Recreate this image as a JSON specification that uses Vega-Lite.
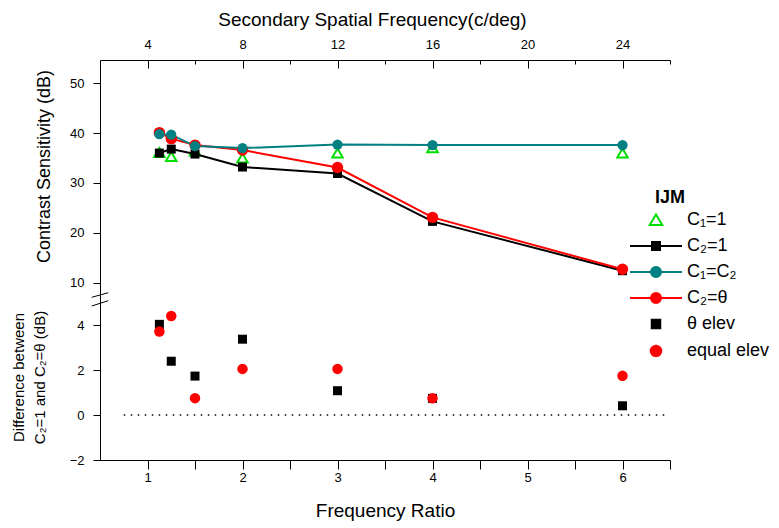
{
  "$schema": "https://vega.github.io/schema/vega-lite/v6.json",
  "width": 570,
  "height": 400,
  "autosize": {"type": "none"},
  "padding": {"left": 100, "top": 60, "right": 109, "bottom": 68},
  "background": "white",
  "config": {
    "view": {"stroke": null},
    "font": "Liberation Sans",
    "axis": {
      "grid": false,
      "domain": true,
      "ticks": true,
      "domainColor": "black",
      "domainWidth": 1,
      "domainOpacity": 1,
      "tickColor": "black",
      "tickWidth": 1,
      "tickOpacity": 1,
      "labelColor": "black",
      "titleColor": "black",
      "labelFontSize": 13,
      "titleFontWeight": "normal",
      "labelOverlap": false,
      "labelFlush": false
    },
    "legend": {
      "titleFontSize": 18,
      "titleFontWeight": "bold",
      "titleColor": "black",
      "labelFontSize": 18,
      "labelColor": "black",
      "symbolSize": 100,
      "symbolStrokeWidth": 2,
      "symbolOpacity": 1,
      "labelOffset": 22,
      "rowPadding": 8,
      "titlePadding": 4
    }
  },
  "datasets": {
    "cs": [
      {"ratio": 1.125, "series": "C₁=1", "cs": 36.1},
      {"ratio": 1.25, "series": "C₁=1", "cs": 35.3},
      {"ratio": 1.5, "series": "C₁=1", "cs": 36.4},
      {"ratio": 2, "series": "C₁=1", "cs": 35.0},
      {"ratio": 3, "series": "C₁=1", "cs": 36.0},
      {"ratio": 4, "series": "C₁=1", "cs": 37.1},
      {"ratio": 6, "series": "C₁=1", "cs": 36.0},
      {"ratio": 1.125, "series": "C₂=1", "cs": 36.0},
      {"ratio": 1.25, "series": "C₂=1", "cs": 36.8},
      {"ratio": 1.5, "series": "C₂=1", "cs": 35.8},
      {"ratio": 2, "series": "C₂=1", "cs": 33.2},
      {"ratio": 3, "series": "C₂=1", "cs": 31.9},
      {"ratio": 4, "series": "C₂=1", "cs": 22.3},
      {"ratio": 6, "series": "C₂=1", "cs": 12.4},
      {"ratio": 1.125, "series": "C₁=C₂", "cs": 39.8},
      {"ratio": 1.25, "series": "C₁=C₂", "cs": 39.7},
      {"ratio": 1.5, "series": "C₁=C₂", "cs": 37.4},
      {"ratio": 2, "series": "C₁=C₂", "cs": 37.0},
      {"ratio": 3, "series": "C₁=C₂", "cs": 37.7},
      {"ratio": 4, "series": "C₁=C₂", "cs": 37.6},
      {"ratio": 6, "series": "C₁=C₂", "cs": 37.6},
      {"ratio": 1.125, "series": "C₂=θ", "cs": 40.1},
      {"ratio": 1.25, "series": "C₂=θ", "cs": 38.9},
      {"ratio": 1.5, "series": "C₂=θ", "cs": 37.6},
      {"ratio": 2, "series": "C₂=θ", "cs": 36.6},
      {"ratio": 3, "series": "C₂=θ", "cs": 33.1},
      {"ratio": 4, "series": "C₂=θ", "cs": 23.1},
      {"ratio": 6, "series": "C₂=θ", "cs": 12.7}
    ],
    "diff": [
      {"ratio": 1.125, "measure": "θ elev", "diff": 4.03},
      {"ratio": 1.25, "measure": "θ elev", "diff": 2.39},
      {"ratio": 1.5, "measure": "θ elev", "diff": 1.73},
      {"ratio": 2, "measure": "θ elev", "diff": 3.37},
      {"ratio": 3, "measure": "θ elev", "diff": 1.08},
      {"ratio": 4, "measure": "θ elev", "diff": 0.74},
      {"ratio": 6, "measure": "θ elev", "diff": 0.41},
      {"ratio": 1.125, "measure": "equal elev", "diff": 3.71},
      {"ratio": 1.25, "measure": "equal elev", "diff": 4.4},
      {"ratio": 1.5, "measure": "equal elev", "diff": 0.75},
      {"ratio": 2, "measure": "equal elev", "diff": 2.05},
      {"ratio": 3, "measure": "equal elev", "diff": 2.05},
      {"ratio": 4, "measure": "equal elev", "diff": 0.74},
      {"ratio": 6, "measure": "equal elev", "diff": 1.74}
    ],
    "entries": [
      {"series": "C₁=1"},
      {"series": "C₂=1"},
      {"series": "C₁=C₂"},
      {"series": "C₂=θ"},
      {"series": "θ elev"},
      {"series": "equal elev"}
    ]
  },
  "layer": [
    {
      "layer": [
        {
          "layer": [
            {
              "data": {"name": "cs"},
              "transform": [{"filter": "datum.series == 'C₁=1'"}],
              "mark": {"type": "point", "shape": "triangle-up", "filled": false, "color": "#00dd00", "strokeWidth": 2, "size": 110, "opacity": 1},
              "encoding": {
                "x": {
                  "field": "ratio", "type": "quantitative",
                  "scale": {"domain": [0.5, 6.5], "nice": false, "zero": false},
                  "axis": {
                    "orient": "top",
                    "values": [1, 2, 3, 4, 5, 6],
                    "labelExpr": "format(datum.value * 4, 'd')",
                    "domain": true,
                    "ticks": true,
                    "tickSize": -8,
                    "labelPadding": 17,
                    "title": "Secondary Spatial Frequency(c/deg)",
                    "titleFontSize": 19,
                    "titleX": 272,
                    "titlePadding": 9
                  }
                },
                "y": {
                  "field": "cs", "type": "quantitative",
                  "scale": {"domain": [-25.57, 54.67], "nice": false, "zero": false},
                  "axis": {
                    "orient": "left",
                    "values": [10, 20, 30, 40, 50],
                    "tickSize": 7,
                    "labelPadding": 9,
                    "title": "Contrast Sensitivity (dB)",
                    "titleFontSize": 18,
                    "titleY": 106,
                    "titlePadding": 16
                  }
                }
              }
            },
            {
              "data": {"name": "cs"},
              "transform": [{"filter": "datum.series == 'C₂=1'"}],
              "mark": {"type": "line", "color": "black", "strokeWidth": 2},
              "encoding": {"x": {"field": "ratio", "type": "quantitative"}, "y": {"field": "cs", "type": "quantitative"}}
            },
            {
              "data": {"name": "cs"},
              "transform": [{"filter": "datum.series == 'C₂=θ'"}],
              "mark": {"type": "line", "color": "#ff0000", "strokeWidth": 2},
              "encoding": {"x": {"field": "ratio", "type": "quantitative"}, "y": {"field": "cs", "type": "quantitative"}}
            },
            {
              "data": {"name": "cs"},
              "transform": [{"filter": "datum.series == 'C₁=C₂'"}],
              "mark": {"type": "line", "color": "#008080", "strokeWidth": 2},
              "encoding": {"x": {"field": "ratio", "type": "quantitative"}, "y": {"field": "cs", "type": "quantitative"}}
            },
            {
              "data": {"name": "cs"},
              "transform": [{"filter": "datum.series == 'C₂=1'"}],
              "mark": {"type": "square", "color": "black", "size": 81, "opacity": 1},
              "encoding": {"x": {"field": "ratio", "type": "quantitative"}, "y": {"field": "cs", "type": "quantitative"}}
            },
            {
              "data": {"name": "cs"},
              "transform": [{"filter": "datum.series == 'C₂=θ'"}],
              "mark": {"type": "circle", "color": "#ff0000", "size": 130, "opacity": 1},
              "encoding": {"x": {"field": "ratio", "type": "quantitative"}, "y": {"field": "cs", "type": "quantitative"}}
            },
            {
              "data": {"name": "cs"},
              "transform": [{"filter": "datum.series == 'C₁=C₂'"}],
              "mark": {"type": "circle", "color": "#008080", "size": 105, "opacity": 1},
              "encoding": {"x": {"field": "ratio", "type": "quantitative"}, "y": {"field": "cs", "type": "quantitative"}}
            },
            {
              "data": {"values": [{}]},
              "mark": {"type": "rule", "color": "black", "strokeWidth": 1},
              "encoding": {
                "x": {"datum": 0.413, "type": "quantitative"},
                "x2": {"datum": 0.587},
                "y": {"datum": 7.07, "type": "quantitative"},
                "y2": {"datum": 7.99}
              }
            },
            {
              "data": {"values": [{}]},
              "mark": {"type": "rule", "color": "black", "strokeWidth": 1},
              "encoding": {
                "x": {"datum": 0.413, "type": "quantitative"},
                "x2": {"datum": 0.587},
                "y": {"datum": 5.32, "type": "quantitative"},
                "y2": {"datum": 6.39}
              }
            },
            {
              "data": {"name": "entries"},
              "mark": {"type": "point", "opacity": 0},
              "encoding": {
                "shape": {
                  "field": "series", "type": "nominal",
                  "scale": {
                    "domain": ["C₁=1", "C₂=1", "C₁=C₂", "C₂=θ", "θ elev", "equal elev"],
                    "range": [
                      "M0,-1.1L1.25,1L-1.25,1Z",
                      "M-5.2,0H5.2M-0.8,-0.8H0.8V0.8H-0.8Z",
                      "M-5.2,0H5.2M1,0A1,1,0,1,1,-1,0A1,1,0,1,1,1,0Z",
                      "M-5.2,0H5.2M1,0A1,1,0,1,1,-1,0A1,1,0,1,1,1,0Z",
                      "M-0.85,-0.85H0.85V0.85H-0.85Z",
                      "M1.05,0A1.05,1.05,0,1,1,-1.05,0A1.05,1.05,0,1,1,1.05,0Z"
                    ]
                  },
                  "legend": {"title": "IJM", "orient": "none", "legendX": 547, "legendY": 129, "encode": {"title": {"update": {"dx": {"value": 8}}}}}
                },
                "fill": {
                  "field": "series", "type": "nominal",
                  "scale": {
                    "domain": ["C₁=1", "C₂=1", "C₁=C₂", "C₂=θ", "θ elev", "equal elev"],
                    "range": ["white", "black", "#008080", "#ff0000", "black", "#ff0000"]
                  },
                  "legend": {"title": "IJM", "orient": "none", "legendX": 547, "legendY": 129, "encode": {"title": {"update": {"dx": {"value": 8}}}}}
                },
                "stroke": {
                  "field": "series", "type": "nominal",
                  "scale": {
                    "domain": ["C₁=1", "C₂=1", "C₁=C₂", "C₂=θ", "θ elev", "equal elev"],
                    "range": ["#00dd00", "black", "#008080", "#ff0000", "black", "#ff0000"]
                  },
                  "legend": {"title": "IJM", "orient": "none", "legendX": 547, "legendY": 129, "encode": {"title": {"update": {"dx": {"value": 8}}}}}
                }
              }
            }
          ]
        },
        {
          "data": {"values": [{}]},
          "mark": {"type": "rule", "opacity": 0},
          "encoding": {
            "x": {
              "datum": 1.5, "type": "quantitative",
              "axis": {
                "orient": "top",
                "values": [1.5, 2.5, 3.5, 4.5, 5.5, 6.5],
                "ticks": true,
                "tickSize": -4,
                "labels": false,
                "domain": false,
                "title": null
              }
            }
          }
        }
      ],
      "resolve": {"axis": {"x": "independent"}}
    },
    {
      "layer": [
        {
          "data": {"values": [{}]},
          "mark": {"type": "rule", "color": "black", "strokeWidth": 1.3, "strokeDash": [1.5, 5.5]},
          "encoding": {
            "x": {
              "datum": 0.75, "type": "quantitative",
              "scale": {"domain": [0.5, 6.5], "nice": false, "zero": false},
              "axis": {
                "orient": "bottom",
                "values": [1, 1.5, 2, 2.5, 3, 3.5, 4, 4.5, 5, 5.5, 6, 6.5],
                "labelExpr": "datum.value % 1 == 0 ? format(datum.value, 'd') : ''",
                "domain": true,
                "ticks": true,
                "tickSize": 9,
                "labelPadding": 2,
                "title": "Frequency Ratio",
                "titleFontSize": 19,
                "titlePadding": 17
              }
            },
            "x2": {"datum": 6.44},
            "y": {
              "datum": 0, "type": "quantitative",
              "scale": {"domain": [-2, 15.78], "nice": false, "zero": false},
              "axis": {
                "orient": "left",
                "values": [-2, 0, 2, 4],
                "domain": false,
                "tickSize": 7,
                "labelPadding": 9,
                "title": ["Difference between", "C₂=1  and C₂=θ (dB)"],
                "titleFontSize": 15,
                "titleLineHeight": 21,
                "titleY": 317,
                "titlePadding": 22
              }
            }
          }
        },
        {
          "data": {"name": "diff"},
          "transform": [{"filter": "datum.measure == 'θ elev'"}],
          "mark": {"type": "square", "color": "black", "size": 81, "opacity": 1},
          "encoding": {"x": {"field": "ratio", "type": "quantitative"}, "y": {"field": "diff", "type": "quantitative"}}
        },
        {
          "data": {"name": "diff"},
          "transform": [{"filter": "datum.measure == 'equal elev'"}],
          "mark": {"type": "circle", "color": "#ff0000", "size": 110, "opacity": 1},
          "encoding": {"x": {"field": "ratio", "type": "quantitative"}, "y": {"field": "diff", "type": "quantitative"}}
        }
      ]
    }
  ],
  "resolve": {"scale": {"y": "independent"}, "axis": {"x": "independent"}}
}
